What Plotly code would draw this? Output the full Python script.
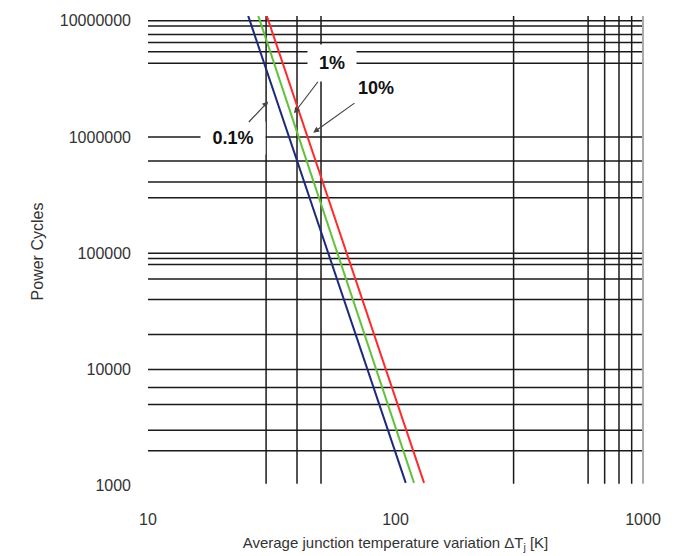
import math

import plotly.graph_objects as go

# lines (end points, log-log straight lines)
names = ["0.1%", "1%", "10%"]
colors = ["#1c2a78", "#62c23a", "#ff2a2a"]
temp_x = [[25.4, 110.0], [27.9, 118.8], [30.2, 130.4]]
cycles_y = [[1.1e7, 1060], [1.1e7, 1060], [1.1e7, 1060]]

# grid positions and labelled ticks
x_grid = [30, 40, 50, 300, 600, 700, 800, 900]
y_grid = [1e7, 9e6, 7.6e6, 6.5e6, 5.4e6, 4.3e6,
          1e6, 6.2e5, 4.1e5, 3.0e5,
          1e5, 9e4, 8e4, 6e4, 4e4, 2e4,
          1e4, 7e3, 5e3, 3e3, 2e3]
x_ticks = [10, 100, 1000]
x_ticktext = ["10", "100", "1000"]
y_ticks = [1e3, 1e4, 1e5, 1e6, 1e7]
y_ticktext = ["1000", "10000", "100000", "1000000", "10000000"]

# annotation arrow tips (data) and text
ann_text = ["1%", "10%", "0.1%"]
ann_x = [38.9, 46.5, 30.6]
ann_y = [1.6e6, 1.09e6, 2.02e6]

x_range = [1, 3]
y_range = [2.99, 7.0404]

fig = go.Figure()
for n, c, xs, ys in zip(names, colors, temp_x, cycles_y):
    fig.add_trace(go.Scatter(x=xs, y=ys, mode="lines", name=n,
                             line=dict(color=c, width=2)))

# the page body has an 8px margin, so the figure is sized to fit inside
font = "Liberation Sans, Arial, sans-serif"
fig.update_layout(
    width=687, height=548,
    margin=dict(l=140, r=52, t=8, b=69),
    paper_bgcolor="white", plot_bgcolor="white",
    showlegend=False,
    font=dict(family=font, size=16, color="#333"),
    xaxis=dict(type="log", range=x_range, tickvals=x_ticks, ticktext=x_ticktext,
               showgrid=False, zeroline=False, showline=False, ticks="",
               ticklabelstandoff=21, automargin=False,
               title=dict(text="Average junction temperature variation ΔT<sub>j</sub> [K]",
                          font=dict(size=15), standoff=10)),
    yaxis=dict(type="log", range=y_range, tickvals=y_ticks, ticktext=y_ticktext,
               showgrid=False, zeroline=False, showline=False, ticks="",
               ticklabelstandoff=16, automargin=False,
               title=dict(text="Power Cycles", font=dict(size=16), standoff=12)),
)

# grid lines
grid = dict(color="#1a1a1a", width=1.5)
for gx in x_grid:
    fig.add_shape(type="line", xref="x", yref="paper", x0=gx, x1=gx, y0=0.007, y1=1,
                  line=grid, layer="below")
for gy in y_grid:
    fig.add_shape(type="line", xref="paper", yref="y", x0=0, x1=1, y0=gy, y1=gy,
                  line=grid, layer="below")
# grey right-hand border
fig.add_shape(type="line", xref="paper", yref="paper", x0=1, x1=1, y0=0.007, y1=1,
              line=dict(color="#aaaaaa", width=2), layer="below")

offsets = [(38, -50, 46, 34), (63, -45, 52, 28), (-35, 37, 62, 30)]
for t, ax_, ay_, (dx, dy, w, h) in zip(ann_text, ann_x, ann_y, offsets):
    fig.add_annotation(x=math.log10(ax_), y=math.log10(ay_), xref="x", yref="y",
                       text="<b>%s</b>" % t,
                       showarrow=True, ax=dx, ay=dy, arrowhead=2, arrowsize=1,
                       arrowwidth=1.2, arrowcolor="#444", bgcolor="white",
                       width=w, height=h, font=dict(size=18, color="#111"))

fig.write_html("out.html")
